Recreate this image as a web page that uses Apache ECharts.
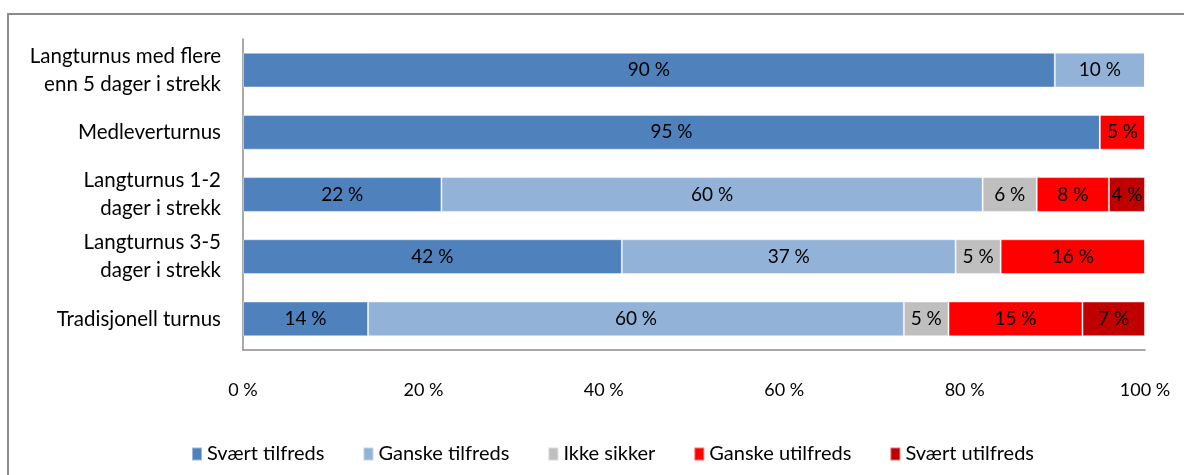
<!DOCTYPE html>
<html>
<head>
<meta charset="utf-8">
<script src="https://cdn.jsdelivr.net/npm/echarts@6/dist/echarts.min.js"></script>
<style>
  html, body { margin: 0; padding: 0; background: #ffffff; }
  #chart { width: 1184px; height: 475px; }
</style>
</head>
<body>
<div id="chart"></div>
<script>
// Turnusordninger (bottom to top as drawn on the category axis)
const categories = [
  'Tradisjonell turnus',
  'Langturnus 3-5\ndager i strekk',
  'Langturnus 1-2\ndager i strekk',
  'Medleverturnus',
  'Langturnus med flere\nenn 5 dager i strekk'
];

const seriesNames = ['Svært tilfreds', 'Ganske tilfreds', 'Ikke sikker', 'Ganske utilfreds', 'Svært utilfreds'];
const colors = ['#4F81BD', '#93B2D7', '#BFBFBF', '#FF0000', '#C00000'];

// Andel svar (%) per kategori, same order as categories
const sværtTilfreds   = [14, 42, 22, 95, 90];
const ganskeTilfreds  = [60, 37, 60, 0, 10];
const ikkeSikker      = [5, 5, 6, 0, 0];
const ganskeUtilfreds = [15, 16, 8, 5, 0];
const sværtUtilfreds  = [7, 0, 4, 0, 0];

const xTicks = [0, 20, 40, 60, 80, 100];

const raw = [sværtTilfreds, ganskeTilfreds, ikkeSikker, ganskeUtilfreds, sværtUtilfreds];
// each bar is scaled to 100 % of its own total (rounded shares may add up to 101)
const totals = categories.map((_, i) => raw.reduce((s, arr) => s + arr[i], 0));

const FONT = 'Lato, "Open Sans", sans-serif';

const series = raw.map((arr, k) => ({
  name: seriesNames[k],
  type: 'bar',
  stack: 'total',
  barCategoryGap: '44%',
  itemStyle: { color: colors[k], borderColor: 'rgba(255,255,255,0.45)', borderWidth: 1 },
  label: {
    show: true,
    position: 'inside',
    color: '#000',
    fontFamily: FONT,
    fontSize: 19,
    formatter: p => (arr[p.dataIndex] > 0 ? arr[p.dataIndex] + ' %' : '')
  },
  emphasis: { disabled: true },
  data: arr.map((v, i) => v / totals[i] * 100)
}));

const chart = echarts.init(document.getElementById('chart'), null, { renderer: 'canvas' });
chart.setOption({
  animation: false,
  backgroundColor: '#ffffff',
  textStyle: { fontFamily: FONT, color: '#000' },
  graphic: [{
    type: 'rect',
    shape: { x: 8, y: 14, width: 1200, height: 500 },
    style: { fill: 'none', stroke: '#8c8c8c', lineWidth: 2 },
    silent: true
  }],
  grid: { left: 243, right: 39, top: 39, bottom: 125, containLabel: false },
  legend: {
    data: seriesNames,
    top: 439,
    left: 186,
    itemWidth: 10,
    itemHeight: 13,
    itemGap: 38,
    icon: 'rect',
    textStyle: { fontFamily: FONT, fontSize: 20, color: '#000' }
  },
  xAxis: {
    type: 'value',
    min: xTicks[0],
    max: xTicks[xTicks.length - 1],
    interval: 20,
    axisLine: { show: true, lineStyle: { color: '#8c8c8c', width: 1.5 } },
    axisTick: { show: false },
    splitLine: { show: false },
    axisLabel: { margin: 31, fontFamily: FONT, fontSize: 18, color: '#000', formatter: '{value} %' }
  },
  yAxis: {
    type: 'category',
    data: categories,
    axisLine: { show: true, lineStyle: { color: '#8c8c8c', width: 1.5 } },
    axisTick: { show: false },
    axisLabel: { margin: 22, fontFamily: FONT, fontSize: 20.5, color: '#000', lineHeight: 28, align: 'right' }
  },
  series: series
});
</script>
</body>
</html>
